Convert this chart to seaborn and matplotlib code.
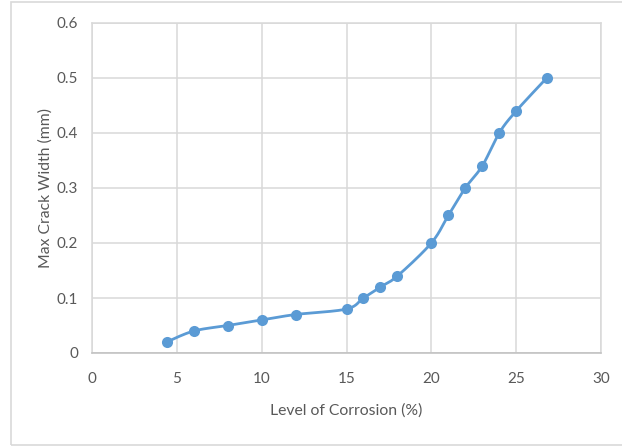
import numpy as np
import pandas as pd
import matplotlib
matplotlib.use("Agg")
import matplotlib.pyplot as plt
import seaborn as sns

corrosion = [4.4, 6, 8, 10, 12, 15, 16, 17, 18, 20, 21, 22, 23, 24, 25, 26.8]
crack_width = [0.02, 0.04, 0.05, 0.06, 0.07, 0.08, 0.10, 0.12, 0.14, 0.20, 0.25, 0.30, 0.34, 0.40, 0.44, 0.50]
x_ticks = [0, 5, 10, 15, 20, 25, 30]
y_ticks = [0, 0.1, 0.2, 0.3, 0.4, 0.5, 0.6]
y_tick_labels = ["0", "0.1", "0.2", "0.3", "0.4", "0.5", "0.6"]

sns.set_theme(style="white")
plt.rcParams['font.family'] = ['Lato', 'DejaVu Sans']

LINE = "#5b9bd5"
TXT = "#595959"
GRID = "#d9d9d9"

def smooth(xs, ys, xr, yr, n=20):
    # Catmull-Rom style smoothing in normalized space (Excel "smoothed line")
    p = np.column_stack([np.array(xs) / xr, np.array(ys) / yr])
    p = np.vstack([p[0], p, p[-1]])
    out = []
    for i in range(1, len(p) - 2):
        p0, p1, p2, p3 = p[i - 1], p[i], p[i + 1], p[i + 2]
        t = np.linspace(0, 1, n, endpoint=False)[:, None]
        c1 = p1 + (p2 - p0) / 6
        c2 = p2 - (p3 - p1) / 6
        seg = ((1 - t) ** 3) * p1 + 3 * ((1 - t) ** 2) * t * c1 + 3 * (1 - t) * t ** 2 * c2 + t ** 3 * p2
        out.append(seg)
    out.append(p[-2][None, :])
    s = np.vstack(out)
    return s[:, 0] * xr, s[:, 1] * yr

fig = plt.figure(figsize=(6.22, 4.46), dpi=100)
ax = fig.add_axes([92 / 622, 1 - 353 / 446, (601 - 92) / 622, (353 - 23) / 446])

sx, sy = smooth(corrosion, crack_width, 30, 0.6)
curve = pd.DataFrame({"x": sx, "y": sy})
pts = pd.DataFrame({"Level of Corrosion (%)": corrosion, "Max Crack Width (mm)": crack_width})

sns.lineplot(data=curve, x="x", y="y", sort=False, color=LINE, linewidth=2, ax=ax, zorder=3)
sns.scatterplot(data=pts, x="Level of Corrosion (%)", y="Max Crack Width (mm)", color=LINE,
                s=64, edgecolor=LINE, linewidth=0, ax=ax, zorder=4)

ax.set_xlim(0, 30)
ax.set_ylim(0, 0.6)
ax.set_xticks(x_ticks)
ax.set_xticklabels([str(v) for v in x_ticks])
ax.set_yticks(y_ticks)
ax.set_yticklabels(y_tick_labels)
ax.grid(True, color=GRID, linewidth=1.1)
for s in ax.spines.values():
    s.set_color(GRID)
    s.set_linewidth(1.1)
ax.spines["bottom"].set_color("#bfbfbf")
ax.tick_params(axis="both", length=0, labelsize=11, labelcolor=TXT)
ax.tick_params(axis="x", pad=14)
ax.tick_params(axis="y", pad=10)
ax.set_xlabel("Level of Corrosion (%)", fontsize=11.3, color=TXT, labelpad=12)
ax.set_ylabel("Max Crack Width (mm)", fontsize=11.3, color=TXT, labelpad=3)

# figure border
fig.add_artist(plt.Rectangle((11 / 622, 1 / 446), 1.2, (444 - 1) / 446, transform=fig.transFigure,
                             fill=False, edgecolor="#d9d9d9", linewidth=1.2))

fig.savefig("out.png", dpi=100)
